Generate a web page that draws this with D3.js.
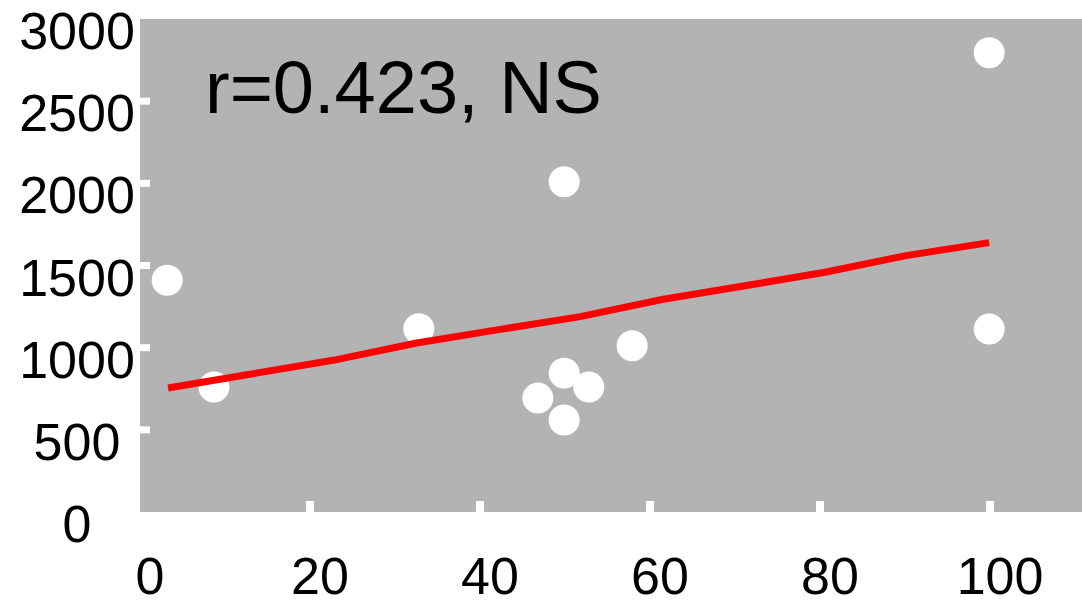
<!DOCTYPE html>
<html>
<head>
<meta charset="utf-8">
<script src="https://cdn.jsdelivr.net/npm/d3@7"></script>
<style>
  body { margin: 0; background: #fff; }
  text { font-family: "Liberation Sans", Arial, sans-serif; fill: #000; }
</style>
</head>
<body>
<script>
// scatter points
var ptX = [3.2, 8.7, 32.8, 46.8, 49.9, 49.9, 52.8, 57.9, 49.9, 99.9, 99.9]
  , ptY = [1410, 760, 1115, 693, 845, 560, 760, 1012, 2010, 2795, 1113]
  ;

// fitted (smoothed) line
var fitX = [3.3, 13.1, 22.7, 32.4, 42.0, 51.8, 61.4, 71.0, 80.6, 90.1, 99.9]
  , fitY = [755, 840, 923, 1027, 1108, 1189, 1293, 1375, 1459, 1560, 1639]
  ;

var xTicks = [0, 20, 40, 60, 80, 100]
  , yTicks = [0, 500, 1000, 1500, 2000, 2500, 3000]
  , label = "r=0.423, NS"
  ;

var width = 1082
  , height = 600
  , padLeft = 140
  , padTop = 19
  , padBottom = 512
  ;

var svg = d3.select("body").append("svg").attr("width", width).attr("height", height);

var x = d3.scaleLinear().domain([0, 110.82]).range([padLeft, width]);
var y = d3.scaleLinear().domain([0, 3000]).range([padBottom, padTop]);

// gray panel
svg.append("rect")
    .attr("x", x(0)).attr("y", y(3000))
    .attr("width", x(110.82) - x(0)).attr("height", y(0) - y(3000))
    .attr("fill", "#b3b3b3");

// white tick marks inside panel
svg.selectAll(".ytick").data(yTicks.filter(function (d) { return d > 0 && d < 3000; }))
  .enter().append("rect")
    .attr("x", padLeft).attr("y", function (d) { return y(d) - 3.5; })
    .attr("width", 10).attr("height", 7)
    .attr("fill", "#fff");

svg.selectAll(".xtick").data(xTicks.filter(function (d) { return d > 0; }))
  .enter().append("rect")
    .attr("x", function (d) { return x(d) - 4; }).attr("y", padBottom - 11)
    .attr("width", 8).attr("height", 11)
    .attr("fill", "#fff");

// tick labels
svg.selectAll(".ylab").data(yTicks)
  .enter().append("text")
    .attr("x", 77).attr("y", function (d) { return y(d) + 30; })
    .attr("text-anchor", "middle")
    .style("font-size", "52px")
    .text(function (d) { return d; });

svg.selectAll(".xlab").data(xTicks)
  .enter().append("text")
    .attr("x", function (d) { return x(d) + 10; }).attr("y", 594)
    .attr("text-anchor", "middle")
    .style("font-size", "52px")
    .text(function (d) { return d; });

// points
svg.selectAll(".pt").data(d3.range(ptX.length))
  .enter().append("circle")
    .attr("cx", function (i) { return x(ptX[i]); })
    .attr("cy", function (i) { return y(ptY[i]); })
    .attr("r", 15.5)
    .attr("fill", "#fff");

// fit line
var line = d3.line()
    .x(function (i) { return x(fitX[i]); })
    .y(function (i) { return y(fitY[i]); });

svg.append("path")
    .attr("d", line(d3.range(fitX.length)))
    .attr("fill", "none")
    .attr("stroke", "#ff0000")
    .attr("stroke-width", 7);

// annotation
svg.append("text")
    .attr("x", 205).attr("y", 113)
    .style("font-size", "74px")
    .text(label);
</script>
</body>
</html>
